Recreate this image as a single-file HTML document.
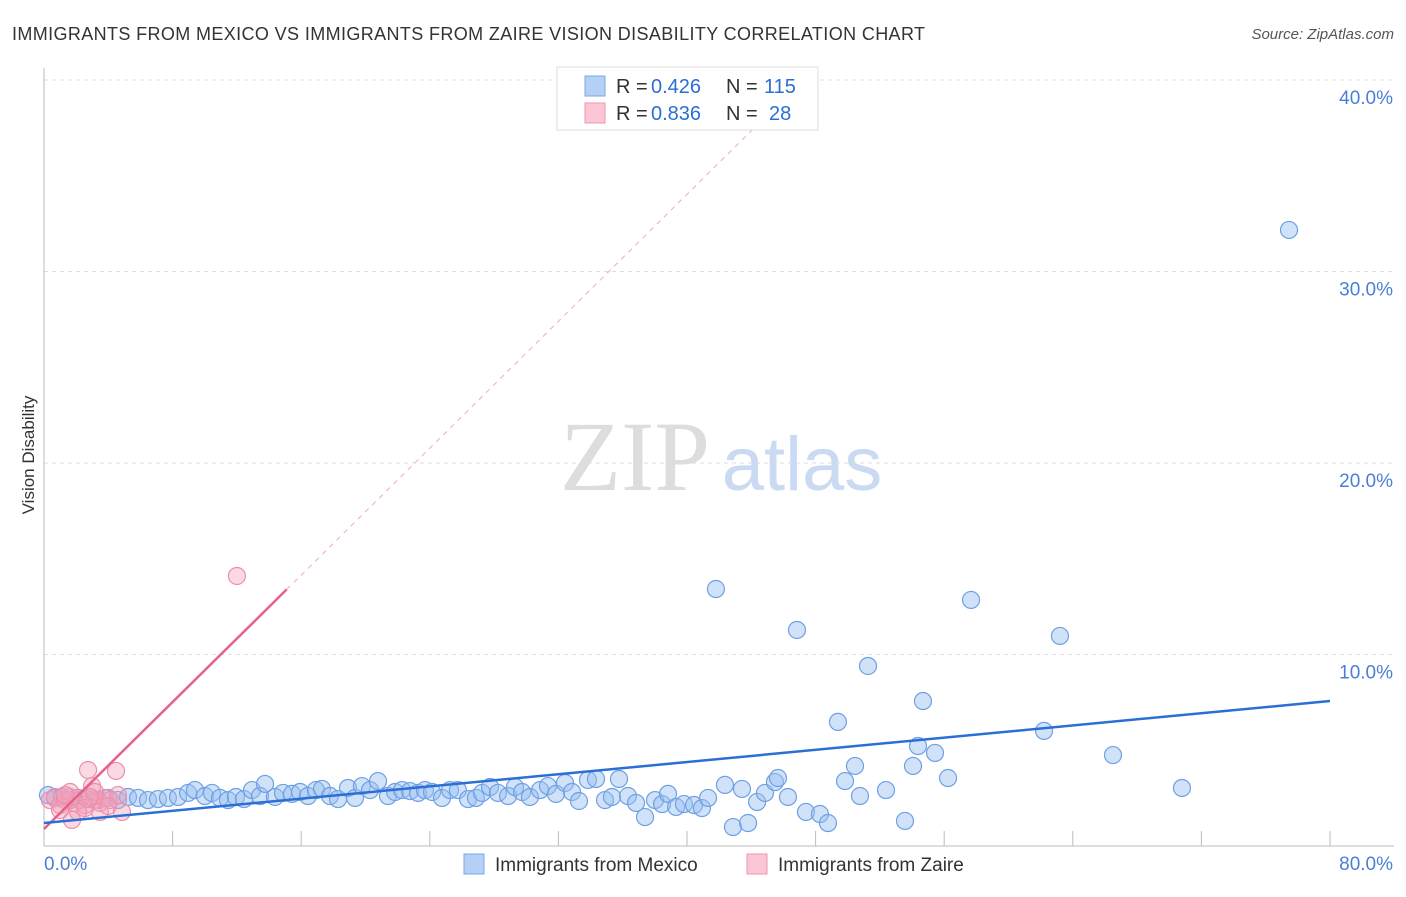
<!DOCTYPE html>
<html><head><meta charset="utf-8"><style>
body{margin:0;background:#fff;font-family:"Liberation Sans",sans-serif;}
</style></head><body>
<svg id="chart" width="1406" height="892" font-family="Liberation Sans, sans-serif">
<text x="12" y="40" font-size="18" fill="#333" textLength="913">IMMIGRANTS FROM MEXICO VS IMMIGRANTS FROM ZAIRE VISION DISABILITY CORRELATION CHART</text>
<text x="1394" y="39" font-size="15" fill="#555" font-style="italic" text-anchor="end">Source: ZipAtlas.com</text>
<text x="34" y="455" font-size="17" fill="#333" text-anchor="middle" transform="rotate(-90 34 455)">Vision Disability</text>
<g><text x="635" y="490" font-size="100" fill="#ddd" style="font-family:'Liberation Serif',serif" text-anchor="middle">ZIP</text><text x="802" y="490" font-size="76" fill="#c9daf2" text-anchor="middle">atlas</text></g>
<g id="grid"></g><g id="axes"></g><g id="trend"></g><g id="pts"></g>
<g>
<rect x="557" y="67" width="261" height="63" fill="#fff" stroke="#ddd"/>
<rect x="585" y="76" width="20" height="20" fill="#b5d0f5" stroke="#7aa8e8"/>
<rect x="585" y="103" width="20" height="20" fill="#fbc6d5" stroke="#ef96b0"/>
<text x="616" y="93" font-size="20" fill="#333">R =</text><text x="651" y="93" font-size="20" fill="#2a6fd6">0.426</text>
<text x="726" y="93" font-size="20" fill="#333">N =</text><text x="764" y="93" font-size="20" fill="#2a6fd6">115</text>
<text x="616" y="120" font-size="20" fill="#333">R =</text><text x="651" y="120" font-size="20" fill="#2a6fd6">0.836</text>
<text x="726" y="120" font-size="20" fill="#333">N =</text><text x="769" y="120" font-size="20" fill="#2a6fd6">28</text>
</g>
<g>
<rect x="464" y="854" width="20" height="20" fill="#b5d0f5" stroke="#7aa8e8"/>
<text x="495" y="871" font-size="19" fill="#333">Immigrants from Mexico</text>
<rect x="747" y="854" width="20" height="20" fill="#fbc6d5" stroke="#ef96b0"/>
<text x="778" y="871" font-size="19" fill="#333">Immigrants from Zaire</text>
</g>
</svg>
<script>
const yTicks=[10,20,30,40];
const yTickLabels=["10.0%","20.0%","30.0%","40.0%"];
const xTicks=[8,16,24,32,40,48,56,64,72,80];
const mexX=[0.25,0.68,1.12,1.62,2.12,2.74,3.36,3.98,4.6,5.23,5.85,6.47,7.09,7.71,8.34,8.96,9.39,10.01,10.45,10.95,11.45,11.94,12.44,12.94,13.44,13.75,14.37,14.87,15.43,15.93,16.42,16.92,17.29,17.79,18.29,18.91,19.35,19.78,20.28,20.78,21.4,21.84,22.27,22.77,23.27,23.7,24.14,24.76,25.26,25.75,26.38,26.87,27.25,27.75,28.24,28.87,29.3,29.74,30.23,30.86,31.35,31.85,32.41,32.85,33.28,33.84,34.34,34.9,35.33,35.77,36.33,36.83,37.39,38.01,38.45,38.82,39.32,39.81,40.44,40.93,41.31,41.8,42.36,42.86,43.42,43.8,44.36,44.85,45.47,45.66,46.28,46.84,47.4,48.27,48.77,49.39,49.83,50.45,50.76,51.26,52.38,53.56,54.06,54.37,54.68,55.43,56.24,57.67,62.21,63.2,66.5,70.79,77.45];
const mexY=[2.66,2.51,2.56,2.40,2.51,2.45,2.40,2.51,2.40,2.56,2.51,2.40,2.45,2.51,2.56,2.77,2.92,2.61,2.77,2.51,2.40,2.56,2.45,2.92,2.61,3.24,2.56,2.77,2.72,2.82,2.61,2.92,2.98,2.61,2.45,3.03,2.51,3.13,2.92,3.39,2.61,2.82,2.92,2.87,2.77,2.92,2.82,2.51,2.92,2.92,2.45,2.51,2.77,3.08,2.77,2.61,3.08,2.82,2.56,2.92,3.13,2.72,3.29,2.82,2.35,3.45,3.5,2.4,2.56,3.5,2.61,2.25,1.51,2.4,2.19,2.72,2.04,2.19,2.14,1.98,2.51,13.42,3.19,0.99,2.98,1.2,2.3,2.77,3.34,3.55,2.56,11.28,1.78,1.67,1.2,6.48,3.39,4.18,2.61,9.4,2.92,1.31,4.18,5.22,7.57,4.86,3.55,12.85,6.01,10.97,4.75,3.03,32.17];
const zaiX=[0.37,0.68,1.0,1.31,1.62,1.93,2.24,2.55,2.74,2.99,3.17,3.48,3.79,4.11,4.48,4.6,1.74,3.48,2.55,1.0,12.0,1.62,3.17,3.98,4.85,2.12,1.31,2.86];
const zaiY=[2.4,2.56,2.14,2.4,2.56,2.25,2.4,2.14,3.97,3.13,2.4,2.25,2.51,2.4,3.92,2.66,1.36,1.78,1.98,1.88,14.1,2.82,2.82,2.09,1.78,1.78,2.66,2.56];
const mexTrend=[1.2,7.57];
const zaiTrend=[0.89,13.4];
const zaiTrendEndX=15.1;

const X0=44,X1=1330,Y0=846,YS=19.15;
const sx=v=>X0+v/80*(X1-X0);
const sy=v=>Y0-v*YS;
const NS="http://www.w3.org/2000/svg";
function mk(parent,tag,attrs){const e=document.createElementNS(NS,tag);for(const k in attrs)e.setAttribute(k,attrs[k]);document.getElementById(parent).appendChild(e);return e;}

yTicks.forEach((t,i)=>{
 const g=mk('grid','line',{x1:X0,x2:1394,y1:sy(t),y2:sy(t),stroke:'#ddd','stroke-dasharray':'4,4'});
 
 
 const l=mk('axes','text',{x:1393,y:sy(t)+24,'font-size':19,fill:'#4a7fd6','text-anchor':'end'});
 l.textContent=yTickLabels[i];
 
 
});
const ax=mk('axes','line',{x1:X0,x2:X0,y1:68,y2:Y0,stroke:'#bbb'});


const bx=mk('axes','line',{x1:X0,x2:1394,y1:Y0,y2:Y0,stroke:'#bbb'});


xTicks.forEach(t=>{
 const k=mk('axes','line',{x1:sx(t),x2:sx(t),y1:Y0-15,y2:Y0,stroke:'#bbb'});
 
 
});
const xl0=mk('axes','text',{x:44,y:870,'font-size':19,fill:'#4a7fd6'});xl0.textContent='0.0%';


const xl1=mk('axes','text',{x:1393,y:870,'font-size':19,fill:'#4a7fd6','text-anchor':'end'});xl1.textContent='80.0%';



mexX.forEach((x,i)=>{
 const c=mk('pts','circle',{cx:sx(x),cy:sy(mexY[i]),r:8.5,fill:'rgba(150,190,240,0.45)',stroke:'#6fa0e4','stroke-width':1.2});
 
 
});
zaiX.forEach((x,i)=>{
 const c=mk('pts','circle',{cx:sx(x),cy:sy(zaiY[i]),r:8.5,fill:'rgba(245,160,185,0.4)',stroke:'#ec8fab','stroke-width':1.2});
 
 
});
const slope=(zaiTrend[1]-zaiTrend[0])/zaiTrendEndX;
const xEnd=(40.5-zaiTrend[0])/slope;
const d=mk('trend','line',{x1:sx(zaiTrendEndX),y1:sy(zaiTrend[1]),x2:sx(xEnd),y2:sy(40.5),stroke:'#f0a9bf','stroke-width':1,'stroke-dasharray':'5,5'});


const tz=mk('pts','line',{x1:sx(0),y1:sy(zaiTrend[0]),x2:sx(zaiTrendEndX),y2:sy(zaiTrend[1]),stroke:'#e8608a','stroke-width':2.5});


const tm=mk('pts','line',{x1:sx(0),y1:sy(mexTrend[0]),x2:sx(80),y2:sy(mexTrend[1]),stroke:'#2a6fd6','stroke-width':2.5});


</script>
</body></html>
